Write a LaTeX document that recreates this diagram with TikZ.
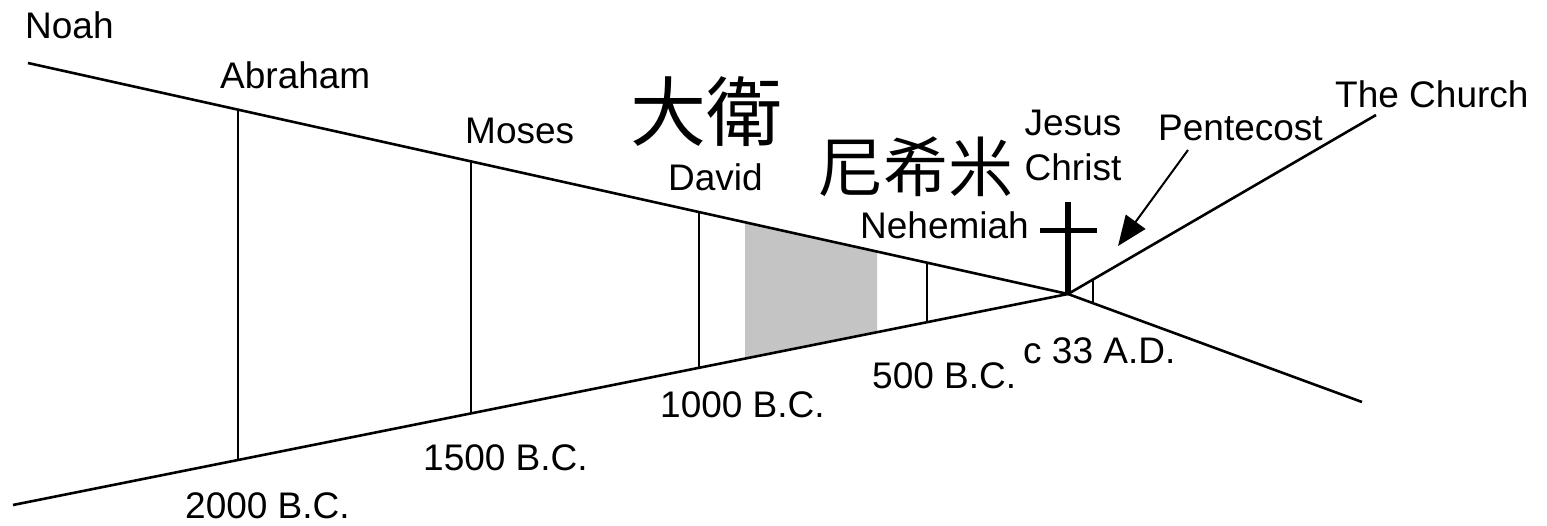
\documentclass[tikz,border=0pt]{standalone}
\usepackage{fontspec}
\setmainfont{Liberation Sans}
\newfontfamily\cjk{Noto Sans CJK TC}
\usetikzlibrary{arrows.meta}

\begin{document}
\begin{tikzpicture}[x=1pt, y=-1pt,
  lbl/.style={font=\fontsize{37}{45}\selectfont, inner sep=0pt, anchor=base west},
  han/.style={inner sep=0pt},
  era/.style={line width=2.6pt},
  rung/.style={line width=2pt}]

\useasboundingbox (0,0) rectangle (1547,525);

% Ends of the two lines and the point where they meet
\coordinate (N0) at (28, 63);
\coordinate (L0) at (13, 505);
\coordinate (X) at (1068, 294);
\coordinate (C) at (1376, 115);
\coordinate (R) at (1362, 402);

% Shaded band after David
\fill[gray!46] (745, 222.3) -- (877, 251.6) -- (877, 332.2) -- (745, 358.6) -- cycle;

% Draw the two main lines
\draw[era] (N0) -- (X) -- (R);
\draw[era] (L0) -- (X) -- (C);

% Verticals between the lines
\foreach \x in {238, 471, 699, 927}
  \draw[rung] (\x, {63+0.2221*(\x-28)}) -- (\x, {505-0.2*(\x-13)});
\draw[rung] (1093, 279.5) -- (1093, 303.2);

% The cross
\coordinate (T) at (1068, 202);
\coordinate (BL) at (1040, 230);
\coordinate (BR) at (1097, 230);
\draw[line width=5.5pt] (T) -- (X);
\draw[line width=5pt] (BL) -- (BR);

% Pentecost arrow
\coordinate (pa) at (1188, 150);
\coordinate (pb) at (1118, 246);
\draw[line width=2pt, -{Triangle[length=30pt, width=24pt]}] (pa) -- (pb);

% Labels
\node[lbl] (noah) at (25, 38) {Noah};
\node[lbl] (abraham) at (220, 88) {Abraham};
\node[lbl] (moses) at (465, 143) {Moses};
\node[lbl] (david) at (668, 190) {David};
\node[han, font=\cjk\fontsize{76}{76}\selectfont] (dawei) at (706, 112) {大衛};
\node[han, font=\cjk\fontsize{65}{65}\selectfont] (nxm) at (916, 167) {尼希米};
\node[lbl] (nehemiah) at (860, 238) {Nehemiah};
\node[lbl, anchor=north, align=center] (jesus) at (1073, 110) {Jesus\\Christ};
\node[lbl] (pentecost) at (1158, 140) {Pentecost};
\node[lbl] (church) at (1335, 107) {The Church};

\node[lbl] (bc2000) at (185, 518) {2000 B.C.};
\node[lbl] (bc1500) at (423, 470) {1500 B.C.};
\node[lbl] (bc1000) at (660, 417) {1000 B.C.};
\node[lbl] (bc500) at (872, 388) {500 B.C.};
\node[lbl] (ad33) at (1023, 363) {c 33 A.D.};

\end{tikzpicture}
\end{document}
